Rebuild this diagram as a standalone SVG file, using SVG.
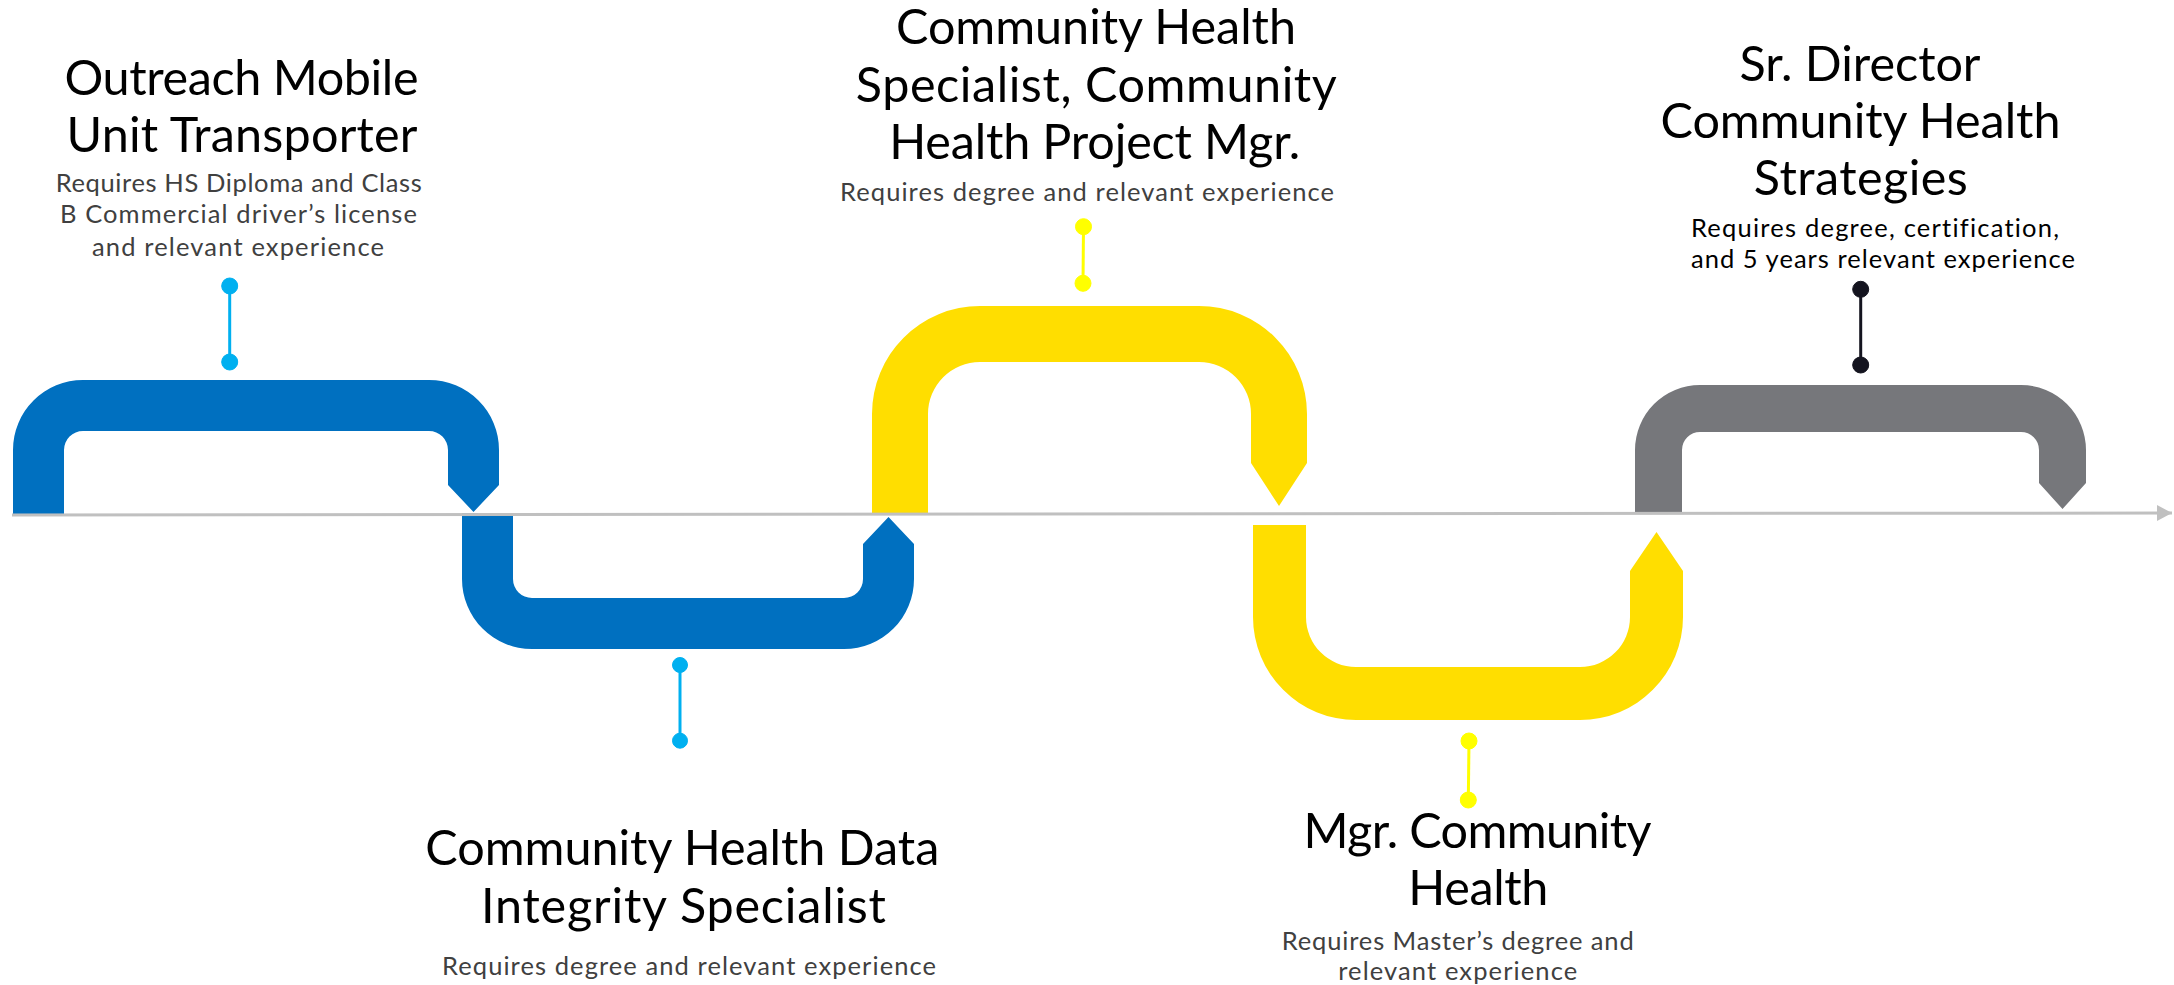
<svg xmlns="http://www.w3.org/2000/svg" width="2174" height="985" viewBox="0 0 2174 985">
<style>
text{font-variant-ligatures:none}
.title{font-family:Lato,"Liberation Sans",sans-serif;font-size:48.5px;fill:#000;text-anchor:middle}
.sub{font-family:Lato,"Liberation Sans",sans-serif;font-size:25.5px;fill:#404040;text-anchor:middle}
.blue{fill:#0070c0}
.yellow{fill:#ffde00}
.gray{fill:#76777b}
.pin-blue{stroke:#00b0f0;fill:#00b0f0}
.pin-yellow{stroke:#ffff00;fill:#ffff00}
.pin-dark{stroke:#14141f;fill:#14141f}
.pin line{stroke-width:3}
</style>
<defs>
<marker id="arr" markerUnits="userSpaceOnUse" markerWidth="16" markerHeight="18" refX="15" refY="8" orient="auto">
<polygon points="0,0 15,8 0,16" fill="#c0c0c0"/>
</marker>
</defs>
<rect width="2174" height="985" fill="#fff"/>
<g id="shape-outreach"><path class="blue" d="M13,516 L13,450 A70,70 0 0 1 83,380 L429,380 A70,70 0 0 1 499,450 L499,485 L473.5,512 L448,485 L448,450 A19,19 0 0 0 429,431 L83,431 A19,19 0 0 0 64,450 L64,516 Z"/></g>
<g id="shape-data"><path class="blue" d="M462,513 L513,513 L513,579 A19,19 0 0 0 532,598 L844,598 A19,19 0 0 0 863,579 L863,544 L888.5,517 L914,544 L914,579 A70,70 0 0 1 844,649 L532,649 A70,70 0 0 1 462,579 Z"/></g>
<g id="shape-specialist"><path class="yellow" d="M872,513 L872,414 A108,108 0 0 1 980,306 L1199,306 A108,108 0 0 1 1307,414 L1307,463 L1279,506 L1251,463 L1251,414 A52,52 0 0 0 1199,362 L980,362 A52,52 0 0 0 928,414 L928,513 Z"/></g>
<g id="shape-mgr"><path class="yellow" d="M1253,525 L1306,525 L1306,617 A50,50 0 0 0 1356,667 L1580,667 A50,50 0 0 0 1630,617 L1630,571 L1656.5,532 L1683,571 L1683,617 A103,103 0 0 1 1580,720 L1356,720 A103,103 0 0 1 1253,617 Z"/></g>
<g id="shape-director"><path class="gray" d="M1635,513 L1635,450 A65,65 0 0 1 1700,385 L2021,385 A65,65 0 0 1 2086,450 L2086,483 L2062.5,509 L2039,483 L2039,450 A18,18 0 0 0 2021,432 L1700,432 A18,18 0 0 0 1682,450 L1682,513 Z"/></g>
<g id="connectors">
<line x1="12" y1="515" x2="2172" y2="513" stroke="#c0c0c0" stroke-width="3" marker-end="url(#arr)"/>
<g class="pin pin-blue"><line x1="229.7" y1="286" x2="229.7" y2="362"/><circle cx="229.7" cy="286" r="8"/><circle cx="229.7" cy="362" r="8"/></g>
<g class="pin pin-blue"><line x1="680" y1="665" x2="680" y2="740.7"/><circle cx="680" cy="665" r="7.5"/><circle cx="680" cy="740.7" r="7.5"/></g>
<g class="pin pin-yellow"><line x1="1083.5" y1="226.7" x2="1083" y2="283.3"/><circle cx="1083.5" cy="226.7" r="8"/><circle cx="1083" cy="283.3" r="8"/></g>
<g class="pin pin-yellow"><line x1="1469" y1="741" x2="1468.3" y2="800"/><circle cx="1469" cy="741" r="8"/><circle cx="1468.3" cy="800" r="8"/></g>
<g class="pin pin-dark"><line x1="1860.7" y1="289.3" x2="1860.7" y2="365"/><circle cx="1860.7" cy="289.3" r="8"/><circle cx="1860.7" cy="365" r="8"/></g>
</g>
<g id="node-outreach">
<text class="title" x="241.5" y="95" textLength="354">Outreach Mobile</text>
<text class="title" x="242" y="151.7" textLength="351">Unit Transporter</text>
<text class="sub" x="238.7" y="192.3" textLength="366">Requires HS Diploma and Class</text>
<text class="sub" x="238.4" y="223.3" textLength="357">B Commercial driver’s license</text>
<text class="sub" x="238" y="255.5" textLength="292">and relevant experience</text>
</g>
<g id="node-data">
<text class="title" x="682.3" y="865" textLength="514">Community Health Data</text>
<text class="title" x="683.5" y="922.7" textLength="405">Integrity Specialist</text>
<text class="sub" x="689" y="975" textLength="494">Requires degree and relevant experience</text>
</g>
<g id="node-specialist">
<text class="title" x="1096" y="44.3" textLength="400">Community Health</text>
<text class="title" x="1096.3" y="101.7" textLength="481">Specialist, Community</text>
<text class="title" x="1094.7" y="159" textLength="411">Health Project Mgr.</text>
<text class="sub" x="1087" y="201" textLength="494">Requires degree and relevant experience</text>
</g>
<g id="node-director">
<text class="title" x="1860" y="81" textLength="241">Sr. Director</text>
<text class="title" x="1860.5" y="138.3" textLength="400">Community Health</text>
<text class="title" x="1860.8" y="195" textLength="214">Strategies</text>
<text class="sub" x="1691" y="236.7" textLength="368" style="text-anchor:start;fill:#000">Requires degree, certification,</text>
<text class="sub" x="1691" y="268.3" textLength="384" style="text-anchor:start;fill:#000">and 5 years relevant experience</text>
</g>
<g id="node-mgr">
<text class="title" x="1477.5" y="848.3" textLength="348">Mgr. Community</text>
<text class="title" x="1478.3" y="905" textLength="140">Health</text>
<text class="sub" x="1457.7" y="950" textLength="352">Requires Master’s degree and</text>
<text class="sub" x="1457.7" y="980" textLength="239">relevant experience</text>
</g>
</svg>
